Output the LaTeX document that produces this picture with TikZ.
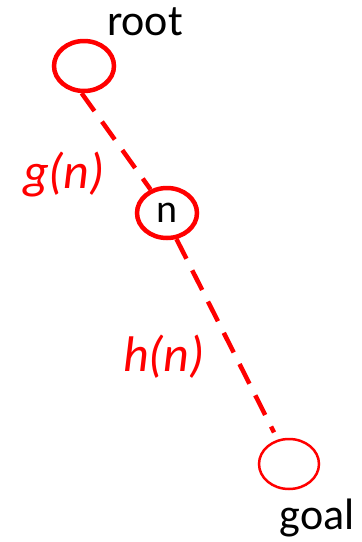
\documentclass[tikz,border=0pt]{standalone}
\usepackage{fontspec}
\setmainfont{Carlito}
\usetikzlibrary{shapes.geometric}
\definecolor{pathRed}{RGB}{255,0,0}
\tikzset{
  vertex/.style={ellipse,draw=pathRed,line width=#1,minimum width=60pt,
    minimum height=50pt,inner sep=0pt},
  vertex/.default=4.5pt,
  cost/.style={draw=pathRed,line width=4.5pt,dash pattern=on 22pt off 13pt},
  costlabel/.style={text=pathRed,font=\fontsize{50}{58}\selectfont\itshape},
  tag/.style={font=\fontsize{44}{52}\selectfont}
}
\begin{document}
\begin{tikzpicture}[x=1pt,y=-1pt]
  \useasboundingbox (0,0) rectangle (362,542);
  \node[vertex] (root) at (84,66) {};
  \node[vertex,font=\fontsize{40}{48}\selectfont] (n) at (167,213) {n};
  \node[vertex=2.5pt] (goal) at (289,464) {};
  \node[tag] (rootname) at (145,22) {root};
  \node[tag] (goalname) at (317,518) {goal};
  \node[costlabel] (g) at (64,175) {g(n)};
  \node[costlabel] (h) at (164,357) {h(n)};
  \draw[cost] (root.265) -- (n.125);
  \draw[cost,shorten >=8pt] (n.290) -- (goal.115);
\end{tikzpicture}
\end{document}
